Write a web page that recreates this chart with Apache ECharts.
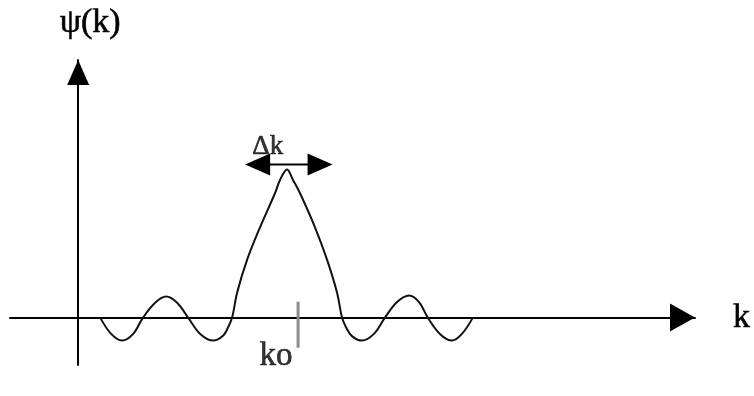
<!DOCTYPE html>
<html>
<head>
<meta charset="utf-8">
<script src="https://cdn.jsdelivr.net/npm/echarts@6/dist/echarts.min.js"></script>
<style>html,body{margin:0;padding:0;background:#fff}#c{width:754px;height:396px}</style>
</head>
<body>
<div id="c"></div>
<script>
// wave packet psi(k) (k in arbitrary units, psi normalised to peak = 1)
const kValues   = [1.0, 1.5, 2.0, 2.5, 2.95, 3.5, 4.0, 4.5, 5.0, 5.55, 6.14, 6.6, 6.82,
                   7.0, 7.23, 7.68, 8.27, 8.95, 9.18, 9.5, 9.77, 10.09, 10.77, 11.32, 11.77, 12.0,
                   12.18, 12.45, 12.9, 13.45, 13.95, 14.5, 15.05, 15.5, 15.9, 16.45, 17.0, 17.45, 17.95];
const psiValues = [0, -0.11, -0.155, -0.11, 0, 0.10, 0.142, 0.10, 0, -0.11, -0.155, -0.12, -0.065,
                   0, 0.17, 0.39, 0.61, 0.84, 0.93, 1.0, 0.93, 0.84, 0.61, 0.39, 0.17, 0,
                   -0.065, -0.125, -0.155, -0.11, 0, 0.105, 0.149, 0.105, 0, -0.11, -0.155, -0.11, 0];
// centre wave number k0 marker
const k0 = 10;
const k0Tick = [0.108, -0.203];
// width annotation Δk
const deltaK = [8.16, 11.0];
const deltaKLevel = 1.034;
// text labels
const xName = 'k';
const yName = 'ψ(k)';
const k0Label = {name: 'ko', k: 9.0, psi: -0.26};
const dkLabel = {name: 'Δk', k: 8.62, psi: 1.15};

const serif = '"Liberation Serif", "DejaVu Serif", serif';
const chart = echarts.init(document.getElementById('c'));
const curve = kValues.map((k, i) => [k, psiValues[i]]);
const txt = {fontFamily: serif, color: '#000', textBorderColor: '#000', textBorderWidth: 0.6};

chart.setOption({
  animation: false,
  backgroundColor: '#fff',
  grid: {left: 10, right: 59, top: 60, bottom: 31},
  xAxis: {
    type: 'value', min: -3.1, max: 28.05,
    axisLine: {show: true, onZero: true, symbol: ['none', 'triangle'], symbolSize: [28, 25], symbolOffset: [0, -12.5],
      lineStyle: {color: '#000', width: 2}},
    axisTick: {show: false}, axisLabel: {show: false}, splitLine: {show: false},
    name: xName, nameLocation: 'end', nameGap: 38,
    nameTextStyle: Object.assign({fontSize: 34, verticalAlign: 'middle'}, txt)
  },
  yAxis: {
    type: 'value', min: -0.32, max: 1.74,
    axisLine: {show: true, onZero: true, symbol: ['none', 'triangle'], symbolSize: [22, 25], symbolOffset: [0, -12.5],
      lineStyle: {color: '#000', width: 2}},
    axisTick: {show: false}, axisLabel: {show: false}, splitLine: {show: false},
    name: yName, nameLocation: 'end', nameGap: 20,
    nameTextStyle: Object.assign({fontSize: 34, padding: [0, 0, 0, 24]}, txt)
  },
  series: [
    {
      type: 'line', data: curve, smooth: 0.35, showSymbol: false, symbol: 'none',
      lineStyle: {color: '#111', width: 2}, z: 3
    },
    {
      type: 'line', data: [[k0, k0Tick[0]], [k0, k0Tick[1]]], symbol: 'none',
      lineStyle: {color: '#8c8c8c', width: 3}, z: 4
    },
    {
      type: 'line',
      data: [
        {value: [deltaK[0], deltaKLevel], symbolRotate: 90},
        {value: [deltaK[1], deltaKLevel], symbolRotate: -90}
      ],
      symbol: 'triangle', symbolSize: [22, 25], showSymbol: true,
      itemStyle: {color: '#000'}, lineStyle: {color: '#000', width: 2}, z: 5
    },
    {
      type: 'scatter', symbolSize: 0, z: 6, itemStyle: {color: '#000'},
      label: Object.assign({show: true, position: 'inside', formatter: '{b}'}, txt),
      data: [
        {name: k0Label.name, value: [k0Label.k, k0Label.psi], label: {fontSize: 33}},
        {name: dkLabel.name, value: [dkLabel.k, dkLabel.psi], label: {fontSize: 27}}
      ]
    }
  ]
});
</script>
</body>
</html>
